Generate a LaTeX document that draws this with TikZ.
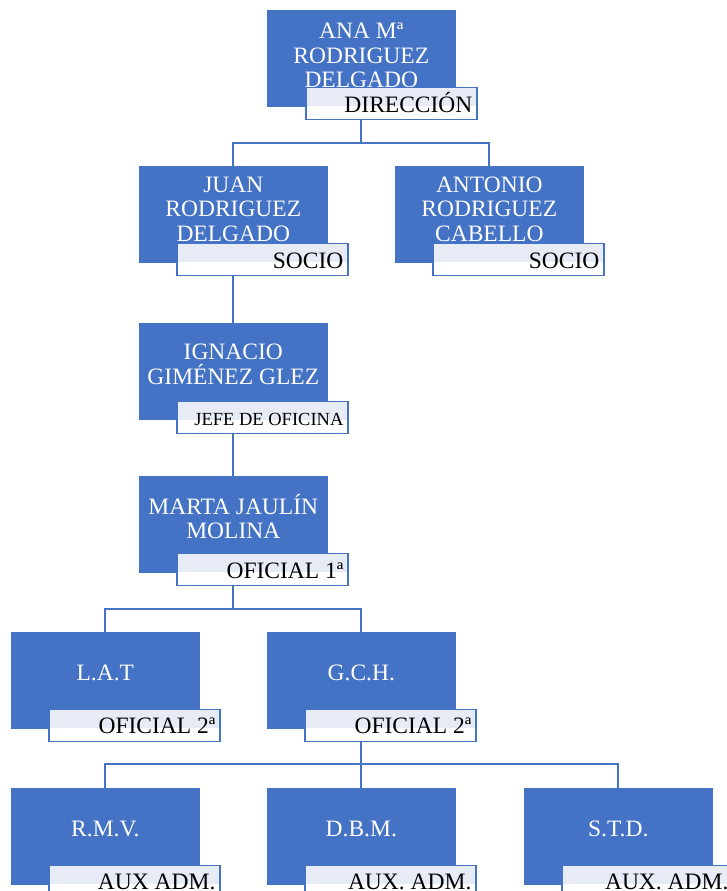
\documentclass[tikz,border=0pt]{standalone}
\usepackage{fontspec}
\setmainfont{Liberation Serif}
\usetikzlibrary{calc}
\definecolor{cblue}{HTML}{4472C4}
\definecolor{clight}{HTML}{E6EBF6}
\pgfdeclarelayer{bg}\pgfsetlayers{bg,main}
\begin{document}
\begin{tikzpicture}[x=1pt,y=-1pt,
  person/.style={rectangle, fill=cblue, draw=cblue, line width=0.6pt, minimum width=188pt, minimum height=96pt, anchor=north west, inner sep=0pt},
  nm/.style={text=white, font=\fontsize{23.5}{24.5}\selectfont, align=center, inner sep=0pt},
  lbl/.style={rectangle, draw=cblue, line width=1.6pt, fill=white, minimum width=171pt, minimum height=32pt, anchor=north west, inner sep=0pt,
    path picture={\fill[clight] (path picture bounding box.north west) rectangle ($(path picture bounding box.east)+(0,3)$);}},
  lt/.style={font=\fontsize{23.5}{24}\selectfont, anchor=base east, inner sep=0pt},
  lts/.style={font=\fontsize{18.5}{20}\selectfont, anchor=base east, inner sep=0pt},
  conn/.style={draw=cblue, line width=2pt}]
\useasboundingbox (0,0) rectangle (727,891);
\clip (0,0) rectangle (727,891);

% boxes
\node[person] (ana) at (267,10) {};
\node[nm] (anaT) at ($(ana.center)+(0,-3)$) {ANA Mª\\RODRIGUEZ\\DELGADO};
\node[lbl] (anaL) at ($(ana.south west)+(38,-20)$) {};
\node[lt] (anaLT) at ($(anaL.south east)+(-5,-8)$) {DIRECCIÓN};

\node[person] (juan) at (139,166) {};
\node[nm] (juanT) at ($(juan.center)+(0,-5)$) {JUAN\\RODRIGUEZ\\DELGADO};
\node[lbl] (juanL) at ($(juan.south west)+(37,-20)$) {};
\node[lt] (juanLT) at ($(juanL.south east)+(-5,-8)$) {SOCIO};

\node[person] (anto) at (395,166) {};
\node[nm] (antoT) at ($(anto.center)+(0,-5)$) {ANTONIO\\RODRIGUEZ\\CABELLO};
\node[lbl] (antoL) at ($(anto.south west)+(37,-20)$) {};
\node[lt] (antoLT) at ($(antoL.south east)+(-5,-8)$) {SOCIO};

\node[person] (igna) at (139,323) {};
\node[nm] (ignaT) at ($(igna.center)+(0,-7)$) {IGNACIO\\GIMÉNEZ GLEZ};
\node[lbl] (ignaL) at ($(igna.south west)+(37,-19)$) {};
\node[lts] (ignaLT) at ($(ignaL.south east)+(-5,-9)$) {JEFE DE OFICINA};

\node[person] (marta) at (139,476) {};
\node[nm] (martaT) at ($(marta.center)+(0,-8)$) {MARTA JAULÍN\\MOLINA};
\node[lbl] (martaL) at ($(marta.south west)+(37,-20)$) {};
\node[lt] (martaLT) at ($(martaL.south east)+(-5,-8)$) {OFICIAL 1ª};

\node[person] (lat) at (11,632) {};
\node[nm] (latT) at ($(lat.center)+(0,-7)$) {L.A.T};
\node[lbl] (latL) at ($(lat.south west)+(37,-20)$) {};
\node[lt] (latLT) at ($(latL.south east)+(-5,-9)$) {OFICIAL 2ª};

\node[person] (gch) at (267,632) {};
\node[nm] (gchT) at ($(gch.center)+(0,-7)$) {G.C.H.};
\node[lbl] (gchL) at ($(gch.south west)+(37,-20)$) {};
\node[lt] (gchLT) at ($(gchL.south east)+(-5,-9)$) {OFICIAL 2ª};

\node[person] (rmv) at (11,788) {};
\node[nm] (rmvT) at ($(rmv.center)+(0,-7)$) {R.M.V.};
\node[lbl] (rmvL) at ($(rmv.south west)+(37,-20)$) {};
\node[lt] (rmvLT) at ($(rmvL.south east)+(-5,-9)$) {AUX ADM.};

\node[person] (dbm) at (267,788) {};
\node[nm] (dbmT) at ($(dbm.center)+(0,-7)$) {D.B.M.};
\node[lbl] (dbmL) at ($(dbm.south west)+(37,-20)$) {};
\node[lt] (dbmLT) at ($(dbmL.south east)+(-5,-9)$) {AUX. ADM.};

\node[person] (std) at (524,788) {};
\node[nm] (stdT) at ($(std.center)+(0,-7)$) {S.T.D.};
\node[lbl] (stdL) at ($(std.south west)+(37,-20)$) {};
\node[lt] (stdLT) at ($(stdL.south east)+(-5,-9)$) {AUX. ADM.};

% connectors
\begin{pgfonlayer}{bg}
\draw[conn] (ana.south) -- ++(0,36) coordinate (h1) -| (juan.north);
\draw[conn] (h1) -| (anto.north);
\draw[conn] (juan.south) -- (igna.north);
\draw[conn] (igna.south) -- (marta.north);
\draw[conn] (marta.south) -- ++(0,36) coordinate (h2) -| (lat.north);
\draw[conn] (h2) -| (gch.north);
\draw[conn] (gch.south) -- ++(0,35) coordinate (h3) -| (rmv.north);
\draw[conn] (h3) -- (dbm.north);
\draw[conn] (h3) -| (std.north);
\end{pgfonlayer}
\end{tikzpicture}
\end{document}
